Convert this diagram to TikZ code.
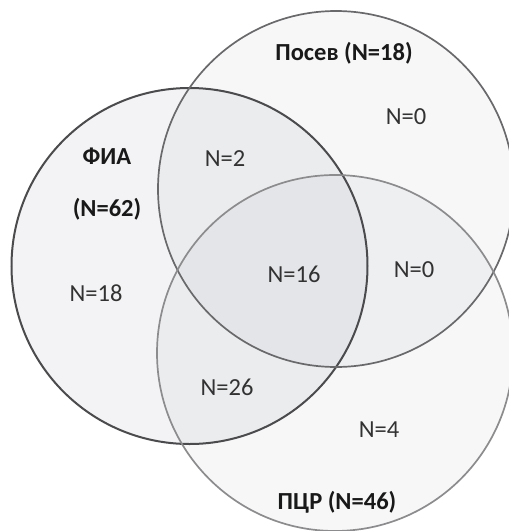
\documentclass[tikz,border=0pt]{standalone}
\usepackage{fontspec}
\setmainfont{Carlito}
\usetikzlibrary{backgrounds}
\definecolor{tint}{RGB}{60,70,90}
\definecolor{txt}{RGB}{50,50,50}
\definecolor{ttl}{RGB}{25,25,25}
\tikzset{
  setc/.style={circle, inner sep=0pt, minimum size=356pt, line width=1.7pt},
  lab/.style={text=txt, font=\fontsize{24.5}{28}\selectfont, inner sep=0pt},
  ttlab/.style={text=ttl, font=\bfseries\fontsize{24.5}{28}\selectfont, inner sep=0pt}
}
\begin{document}
\begin{tikzpicture}[x=1pt,y=-1pt]
\useasboundingbox (0,0) rectangle (509,531);
\node[setc, draw={rgb,255:red,75;green,75;blue,78}, line width=2pt] (fia) at (189.5,266) {};
\node[setc, draw={rgb,255:red,105;green,105;blue,108}] (posev) at (336,189) {};
\node[setc, draw={rgb,255:red,140;green,140;blue,142}] (pcr) at (335,353) {};
\begin{scope}[on background layer]
  \fill[tint, fill opacity=0.062] (fia.center) circle[radius=178];
  \fill[tint, fill opacity=0.043] (posev.center) circle[radius=178];
  \fill[tint, fill opacity=0.043] (pcr.center) circle[radius=178];
\end{scope}
\node[ttlab] (tposev) at (344,53) {Посев (N=18)};
\node[lab] (p0) at (406,117) {N=0};
\node[ttlab] (tfia) at (107,156) {ФИА};
\node[ttlab] (tfia2) at (107,209) {(N=62)};
\node[lab] (fp) at (225,159) {N=2};
\node[lab] (all) at (294,274) {N=16};
\node[lab] (pp) at (414,270) {N=0};
\node[lab] (f0) at (96,293) {N=18};
\node[lab] (fq) at (227,387) {N=26};
\node[lab] (q0) at (379,430) {N=4};
\node[ttlab] (tpcr) at (337,502) {ПЦР (N=46)};
\end{tikzpicture}
\end{document}
